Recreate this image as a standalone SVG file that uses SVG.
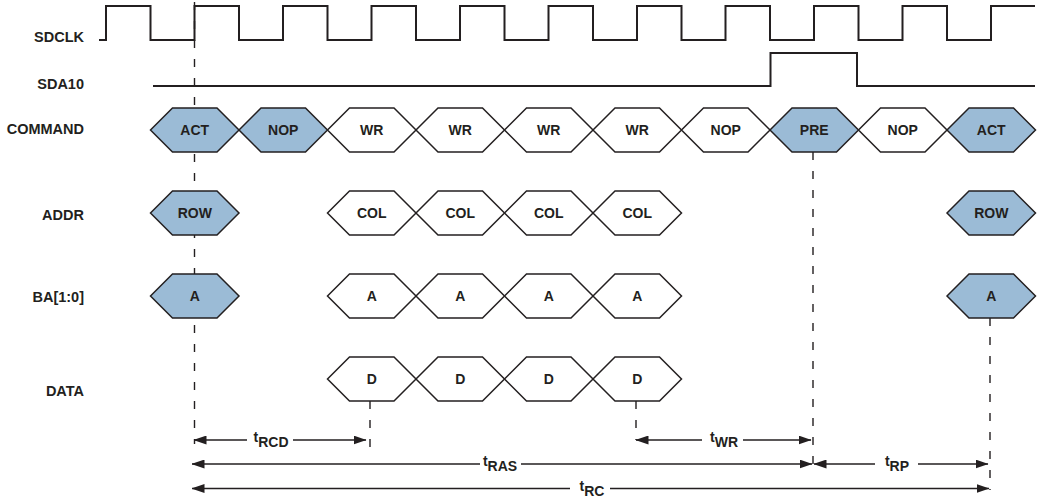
<svg xmlns="http://www.w3.org/2000/svg" width="1043" height="499" viewBox="0 0 1043 499">
<style>
text{font-family:"Liberation Sans",Arial,Helvetica,sans-serif;font-weight:bold;font-size:14px;fill:#231f20}
.lbl{text-anchor:end;font-size:14.5px}
.ht{text-anchor:middle}
.tl{text-anchor:middle}
.wave{fill:none;stroke:#231f20;stroke-width:2}
.hx{stroke:#231f20;stroke-width:1.5;stroke-linejoin:miter;fill:#ffffff}
.hb{fill:#9bbbd6}
.dash{fill:none;stroke:#231f20;stroke-width:1.4;stroke-dasharray:8 11}
.arr{fill:none;stroke:#231f20;stroke-width:1.5}
</style>
<defs>
<marker id="ah" viewBox="0 0 13 9" refX="12.5" refY="4.5" markerWidth="13" markerHeight="9" markerUnits="userSpaceOnUse" orient="auto-start-reverse">
<path d="M0,0 L13,4.5 L0,9 Z" fill="#231f20"/>
</marker>
</defs>
<rect width="1043" height="499" fill="#ffffff"/>

<g id="labels">
<text class="lbl" x="84" y="42">SDCLK</text>
<text class="lbl" x="84" y="89">SDA10</text>
<text class="lbl" x="84" y="134">COMMAND</text>
<text class="lbl" x="84" y="220">ADDR</text>
<text class="lbl" x="84" y="302">BA[1:0]</text>
<text class="lbl" x="84" y="396">DATA</text>
</g>

<g id="connectors">
<path class="dash" d="M194.5,2 V444"/>
<path class="dash" d="M370,401 V458"/>
<path class="dash" d="M636,401 V440"/>
<path class="dash" d="M813,152 V470"/>
<path class="dash" d="M990,318 V490"/>
<path class="arr" d="M194,440 H247" marker-start="url(#ah)"/>
<path class="arr" d="M293,440 H366" marker-end="url(#ah)"/>
<path class="arr" d="M192,464 H480" marker-start="url(#ah)"/>
<path class="arr" d="M521,464 H812" marker-end="url(#ah)"/>
<path class="arr" d="M192,488.5 H570" marker-start="url(#ah)"/>
<path class="arr" d="M610,488.5 H989" marker-end="url(#ah)"/>
<path class="arr" d="M636,440 H702" marker-start="url(#ah)"/>
<path class="arr" d="M743,440 H811" marker-end="url(#ah)"/>
<path class="arr" d="M814,464 H875" marker-start="url(#ah)"/>
<path class="arr" d="M918,464 H988" marker-end="url(#ah)"/>
</g>

<g id="timing-labels">
<text class="tl" x="271" y="442">t<tspan dy="5">RCD</tspan></text>
<text class="tl" x="500" y="466">t<tspan dy="5">RAS</tspan></text>
<text class="tl" x="592" y="491">t<tspan dy="5">RC</tspan></text>
<text class="tl" x="724" y="442">t<tspan dy="5">WR</tspan></text>
<text class="tl" x="897" y="466">t<tspan dy="5">RP</tspan></text>
</g>

<g id="sdclk">
<path class="wave" d="M99,40 H106 V6 H150.5 V40 H194.5 V6 H239 V40 H283 V6 H327.5 V40 H371.5 V6 H416 V40 H460 V6 H504.5 V40 H548.5 V6 H593 V40 H637 V6 H681.5 V40 H725.5 V6 H770 V40 H814 V6 H858.5 V40 H902.5 V6 H947 V40 H991 V6 H1035"/>
</g>

<g id="sda10">
<path class="wave" d="M153,86 H770.5 V53 H857 V86 H1035"/>
</g>

<g id="cmd-act1"><polygon class="hx hb" points="150.5,130 172.5,108 217,108 239,130 217,152 172.5,152"/><text class="ht" x="194.75" y="135">ACT</text></g>
<g id="cmd-nop1"><polygon class="hx hb" points="239,130 261,108 305.5,108 327.5,130 305.5,152 261,152"/><text class="ht" x="283.25" y="135">NOP</text></g>
<g id="cmd-wr1"><polygon class="hx" points="327.5,130 349.5,108 394,108 416,130 394,152 349.5,152"/><text class="ht" x="371.75" y="135">WR</text></g>
<g id="cmd-wr2"><polygon class="hx" points="416,130 438,108 482.5,108 504.5,130 482.5,152 438,152"/><text class="ht" x="460.25" y="135">WR</text></g>
<g id="cmd-wr3"><polygon class="hx" points="504.5,130 526.5,108 571,108 593,130 571,152 526.5,152"/><text class="ht" x="548.75" y="135">WR</text></g>
<g id="cmd-wr4"><polygon class="hx" points="593,130 615,108 659.5,108 681.5,130 659.5,152 615,152"/><text class="ht" x="637.25" y="135">WR</text></g>
<g id="cmd-nop2"><polygon class="hx" points="681.5,130 703.5,108 748,108 770,130 748,152 703.5,152"/><text class="ht" x="725.75" y="135">NOP</text></g>
<g id="cmd-pre"><polygon class="hx hb" points="770,130 792,108 836.5,108 858.5,130 836.5,152 792,152"/><text class="ht" x="814.25" y="135">PRE</text></g>
<g id="cmd-nop3"><polygon class="hx" points="858.5,130 880.5,108 925,108 947,130 925,152 880.5,152"/><text class="ht" x="902.75" y="135">NOP</text></g>
<g id="cmd-act2"><polygon class="hx hb" points="947,130 969,108 1013.5,108 1035.5,130 1013.5,152 969,152"/><text class="ht" x="991.25" y="135">ACT</text></g>

<g id="addr-row1"><polygon class="hx hb" points="150.5,213 172.5,191 217,191 239,213 217,235 172.5,235"/><text class="ht" x="194.75" y="218">ROW</text></g>
<g id="addr-col1"><polygon class="hx" points="327.5,213 349.5,191 394,191 416,213 394,235 349.5,235"/><text class="ht" x="371.75" y="218">COL</text></g>
<g id="addr-col2"><polygon class="hx" points="416,213 438,191 482.5,191 504.5,213 482.5,235 438,235"/><text class="ht" x="460.25" y="218">COL</text></g>
<g id="addr-col3"><polygon class="hx" points="504.5,213 526.5,191 571,191 593,213 571,235 526.5,235"/><text class="ht" x="548.75" y="218">COL</text></g>
<g id="addr-col4"><polygon class="hx" points="593,213 615,191 659.5,191 681.5,213 659.5,235 615,235"/><text class="ht" x="637.25" y="218">COL</text></g>
<g id="addr-row2"><polygon class="hx hb" points="947,213 969,191 1013.5,191 1035.5,213 1013.5,235 969,235"/><text class="ht" x="991.25" y="218">ROW</text></g>

<g id="ba-a1"><polygon class="hx hb" points="150.5,296 172.5,274 217,274 239,296 217,318 172.5,318"/><text class="ht" x="194.75" y="301">A</text></g>
<g id="ba-a2"><polygon class="hx" points="327.5,296 349.5,274 394,274 416,296 394,318 349.5,318"/><text class="ht" x="371.75" y="301">A</text></g>
<g id="ba-a3"><polygon class="hx" points="416,296 438,274 482.5,274 504.5,296 482.5,318 438,318"/><text class="ht" x="460.25" y="301">A</text></g>
<g id="ba-a4"><polygon class="hx" points="504.5,296 526.5,274 571,274 593,296 571,318 526.5,318"/><text class="ht" x="548.75" y="301">A</text></g>
<g id="ba-a5"><polygon class="hx" points="593,296 615,274 659.5,274 681.5,296 659.5,318 615,318"/><text class="ht" x="637.25" y="301">A</text></g>
<g id="ba-a6"><polygon class="hx hb" points="947,296 969,274 1013.5,274 1035.5,296 1013.5,318 969,318"/><text class="ht" x="991.25" y="301">A</text></g>

<g id="data-d1"><polygon class="hx" points="327.5,379 349.5,357 394,357 416,379 394,401 349.5,401"/><text class="ht" x="371.75" y="384">D</text></g>
<g id="data-d2"><polygon class="hx" points="416,379 438,357 482.5,357 504.5,379 482.5,401 438,401"/><text class="ht" x="460.25" y="384">D</text></g>
<g id="data-d3"><polygon class="hx" points="504.5,379 526.5,357 571,357 593,379 571,401 526.5,401"/><text class="ht" x="548.75" y="384">D</text></g>
<g id="data-d4"><polygon class="hx" points="593,379 615,357 659.5,357 681.5,379 659.5,401 615,401"/><text class="ht" x="637.25" y="384">D</text></g>
</svg>
